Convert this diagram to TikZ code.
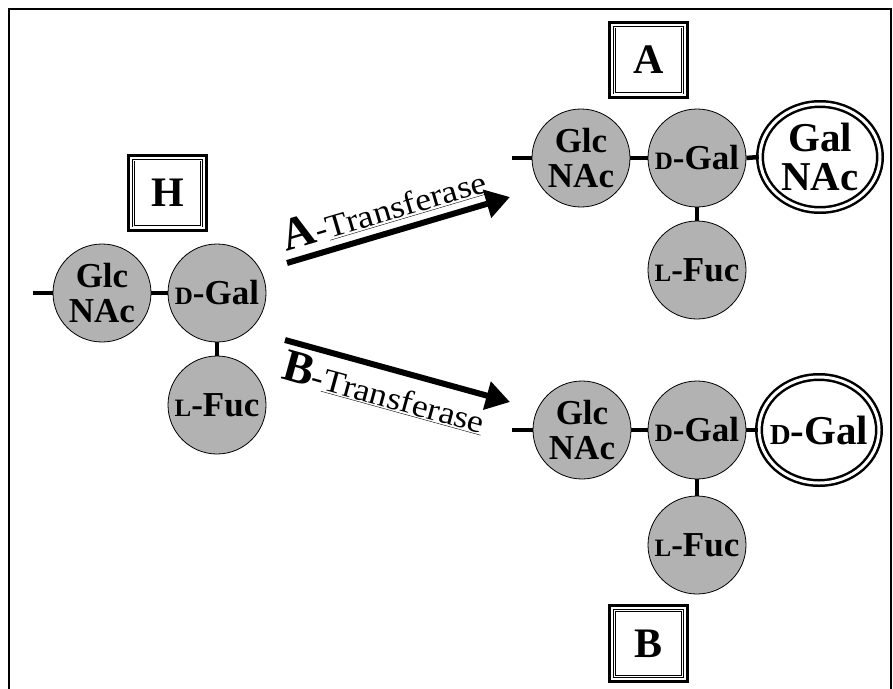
\documentclass[tikz,border=0pt]{standalone}
\usepackage{fontspec}
\setmainfont{Liberation Serif}
\newfontfamily\wfont[FakeStretch=1.12]{Liberation Serif}
\usetikzlibrary{arrows.meta,shapes.geometric}
\definecolor{sgray}{RGB}{178,178,178}
\newcommand{\smallD}{{\fontsize{25}{25}\selectfont D}}
\newcommand{\smallL}{{\fontsize{25}{25}\selectfont L}}
\begin{document}
\begin{tikzpicture}[x=1pt,y=-1pt,
  sugar/.style={circle,draw=black,line width=0.8pt,fill=sgray,minimum size=98pt,inner sep=0pt,align=center,
    font=\bfseries\fontsize{35}{35}\selectfont},
  newsugar/.style={ellipse,draw=black,line width=2.5pt,double=white,double distance=3pt,
    minimum width=120pt,minimum height=106pt,inner sep=0pt},
  newtext/.style={inner sep=0pt,align=center,font=\bfseries\fontsize{41}{39}\selectfont},
  bond/.style={line width=4.5pt},
  framebox/.style={rectangle,draw=black,line width=0.8pt,double=white,double distance=1pt,
    minimum width=68pt,minimum height=66pt,inner sep=0pt,
    font=\bfseries\fontsize{42}{42}\selectfont},
  outerframe/.style={line width=3pt},
  bigarrow/.style={line width=6pt,-{Triangle[length=24pt,width=28pt]}},
  trlabel/.style={inner sep=0pt}
]
\useasboundingbox (0,0) rectangle (893,688);
\fill[white] (0,0) rectangle (893,688);
\draw[line width=2pt] (9,9) rectangle (891,695);

% ---------- H ----------
\node[framebox] (hbox) at (167.5,193) {H};
\draw[outerframe] ([shift={(-4.5,-4.5)}]hbox.north west) rectangle ([shift={(4.5,4.5)}]hbox.south east);
\node[sugar] (hglc) at (102,293) {Glc\\NAc};
\node[sugar] (hgal) at (217,293) {\smallD-Gal};
\node[sugar] (hfuc) at (217,405) {\smallL-Fuc};
\coordinate (hstub) at (33,293);
\draw[bond] (hstub) -- (hglc.west);
\draw[bond] (hglc.east) -- (hgal.west);
\draw[bond] (hgal.south) -- (hfuc.north);

% ---------- A ----------
\node[framebox] (abox) at (648.5,60) {A};
\draw[outerframe] ([shift={(-4.5,-4.5)}]abox.north west) rectangle ([shift={(4.5,4.5)}]abox.south east);
\node[sugar] (aglc) at (581,158) {Glc\\NAc};
\node[sugar] (agal) at (697,158) {\smallD-Gal};
\node[sugar] (afuc) at (697,270) {\smallL-Fuc};
\node[newsugar] (agalnac) at (820,157) {};
\node[newtext] (agalnactext) at (agalnac.center) {Gal\\NAc};
\coordinate (astub) at (512,158);
\draw[bond] (astub) -- (aglc.west);
\draw[bond] (aglc.east) -- (agal.west);
\draw[bond] (agal.east) -- (agalnac.west);
\draw[bond] (agal.south) -- (afuc.north);

% ---------- B ----------
\node[framebox] (bbox) at (648.5,643.5) {B};
\draw[outerframe] ([shift={(-4.5,-4.5)}]bbox.north west) rectangle ([shift={(4.5,4.5)}]bbox.south east);
\node[sugar] (bglc) at (582,430) {Glc\\NAc};
\node[sugar] (bgal) at (697,430) {\smallD-Gal};
\node[sugar] (bfuc) at (697,545) {\smallL-Fuc};
\node[newsugar] (bgal2) at (819,430) {};
\node[newtext] (bgal2text) at (bgal2.center) {{\fontsize{29}{29}\selectfont D}-Gal};
\coordinate (bstub) at (512,430);
\draw[bond] (bstub) -- (bglc.west);
\draw[bond] (bglc.east) -- (bgal.west);
\draw[bond] (bgal.east) -- (bgal2.west);
\draw[bond] (bgal.south) -- (bfuc.north);

% ---------- arrows ----------
\coordinate (a1) at (287,263);
\coordinate (a2) at (510,197);
\coordinate (b1) at (285,340);
\coordinate (b2) at (510,402);
\draw[bigarrow] (a1) -- (a2) node[trlabel,pos=0.465,sloped,above=6pt]
  {{\bfseries\fontsize{46}{46}\selectfont A}{\wfont\fontsize{32}{32}\selectfont -\underline{Transferase}}};
\draw[bigarrow] (b1) -- (b2) node[trlabel,pos=0.47,sloped,below=5pt]
  {{\bfseries\fontsize{46}{46}\selectfont B}{\wfont\fontsize{32}{32}\selectfont -\underline{Transferase}}};
\end{tikzpicture}
\end{document}
